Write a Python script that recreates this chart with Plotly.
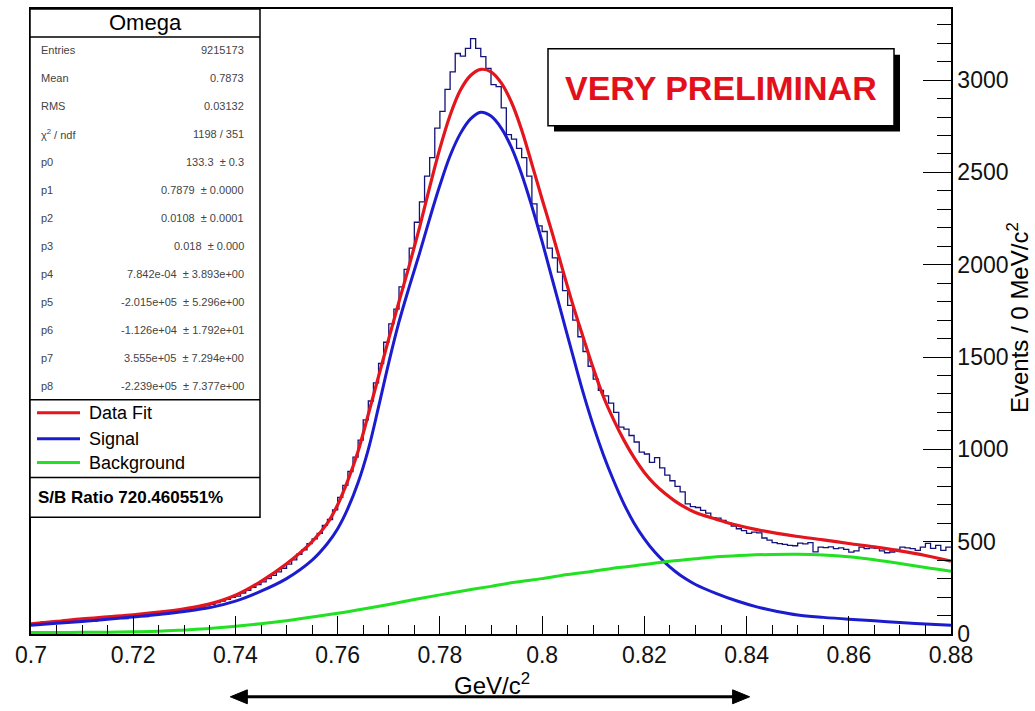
import plotly.graph_objects as go

# ---------------- data ----------------
bin_lo = 0.700
bin_width = 0.001
hist_counts = [
    52, 58, 66, 60, 63, 58, 67, 64, 70, 68,
    72, 75, 70, 78, 82, 79, 85, 88, 84, 92,
    95, 98, 94, 102, 106, 110, 108, 115, 118, 124,
    128, 133, 140, 146, 152, 160, 170, 178, 188, 198,
    205, 222, 236, 252, 268, 282, 300, 318, 336, 356,
    378, 402, 432, 456, 490, 515, 545, 588, 620, 672,
    740, 805, 880, 958, 1050, 1160, 1262, 1360, 1465, 1580,
    1680, 1760, 1880, 1975, 2090, 2230, 2340, 2480, 2580, 2740,
    2830, 2950, 3045, 3144, 3130, 3172, 3225, 3172, 3127, 3063,
    2975, 2965, 2850, 2705, 2680, 2630, 2580, 2480, 2330, 2210,
    2180, 2090, 2037, 1960, 1860, 1780, 1700, 1610, 1530, 1450,
    1380, 1320, 1290, 1250, 1200, 1120, 1110, 1075, 1040, 985,
    975, 930, 955, 900, 860, 830, 800, 770, 705, 690,
    685, 670, 655, 630, 628, 615, 600, 585, 570, 560,
    545, 552, 548, 520, 508, 495, 490, 485, 480, 478,
    492, 488, 495, 445, 470, 468, 472, 462, 466, 458,
    443, 450, 470, 462, 466, 464, 450, 440, 444, 458,
    470, 466, 462, 453, 470, 491, 464, 480, 453, 470,
]

fit_x = [0.700, 0.705, 0.710, 0.715, 0.720, 0.725, 0.730, 0.735, 0.740, 0.745,
         0.750, 0.755, 0.758, 0.760, 0.762, 0.764, 0.766, 0.768, 0.770, 0.772,
         0.774, 0.776, 0.778, 0.780, 0.782, 0.784, 0.786, 0.788, 0.790, 0.792,
         0.794, 0.796, 0.798, 0.800, 0.802, 0.804, 0.806, 0.808, 0.810, 0.812,
         0.814, 0.816, 0.818, 0.820, 0.822, 0.824, 0.826, 0.828, 0.830, 0.834,
         0.838, 0.842, 0.846, 0.850, 0.855, 0.860, 0.865, 0.870, 0.875, 0.880]
data_fit = [55, 68, 82, 93, 104, 118, 136, 163, 210, 285,
            380, 500, 600, 700, 832, 990, 1190, 1395, 1600, 1800,
            1995, 2200, 2420, 2630, 2810, 2945, 3025, 3058, 3045, 2985,
            2880, 2730, 2545, 2355, 2170, 1975, 1785, 1610, 1440, 1285,
            1160, 1050, 955, 875, 812, 762, 720, 686, 658, 622,
            590, 565, 545, 528, 510, 490, 472, 450, 425, 395]
signal = [48, 58, 68, 80, 92, 106, 122, 143, 178, 232,
          300, 400, 490, 570, 680, 820, 1000, 1230, 1470, 1690,
          1880, 2060, 2250, 2430, 2590, 2710, 2790, 2826, 2805, 2740,
          2635, 2490, 2315, 2125, 1920, 1715, 1510, 1310, 1130, 970,
          830, 705, 600, 515, 445, 388, 340, 300, 268, 220,
          180, 147, 122, 103, 90, 80, 72, 62, 54, 47]

bkg_x = [0.700, 0.705, 0.710, 0.715, 0.720, 0.725, 0.730, 0.735, 0.740, 0.745,
         0.750, 0.755, 0.760, 0.765, 0.770, 0.775, 0.780, 0.785, 0.790, 0.795,
         0.800, 0.805, 0.810, 0.815, 0.820, 0.825, 0.830, 0.835, 0.840, 0.845,
         0.850, 0.855, 0.860, 0.865, 0.870, 0.875, 0.880]
background = [8, 8, 9, 10, 12, 15, 22, 30, 42, 56,
              72, 92, 112, 135, 160, 187, 212, 236, 258, 282,
              300, 322, 340, 360, 376, 394, 408, 420, 427, 431,
              432, 428, 418, 402, 382, 360, 340]

x_ticks = [0.70, 0.72, 0.74, 0.76, 0.78, 0.80, 0.82, 0.84, 0.86, 0.88]
x_ticktext = ['0.7', '0.72', '0.74', '0.76', '0.78', '0.8', '0.82', '0.84', '0.86', '0.88']

stat_labels = ['Entries', 'Mean', 'RMS', 'χ<sup>2</sup> / ndf', 'p0', 'p1', 'p2', 'p3',
               'p4', 'p5', 'p6', 'p7', 'p8']
stat_values = ['9215173', '0.7873', '0.03132', '1198 / 351', '133.3  ± 0.3',
               '0.7879  ± 0.0000', '0.0108  ± 0.0001', '0.018  ± 0.000',
               '7.842e-04  ± 3.893e+00', '-2.015e+05  ± 5.296e+00',
               '-1.126e+04  ± 1.792e+01', '3.555e+05  ± 7.294e+00',
               '-2.239e+05  ± 7.377e+00']
legend_names = ['Data Fit', 'Signal', 'Background']

# ---------------- styling ----------------
FONT = 'Liberation Sans, Arial, Helvetica, sans-serif'
C_HIST = '#12127a'
C_RED = '#e3161e'
C_BLUE = '#1c1ccf'
C_GREEN = '#22e022'

W, H = 1035, 711
L, R, T, B = 31, 951, 7, 634


def px(x):
    return (x - L) / (R - L)


def py(y):
    return (B - y) / (B - T)


fig = go.Figure()

edges = [round(bin_lo + bin_width * i, 4) for i in range(len(hist_counts) + 1)]
fig.add_trace(go.Scatter(x=edges, y=hist_counts + [hist_counts[-1]], mode='lines',
                         line=dict(shape='hv', color=C_HIST, width=1.3),
                         showlegend=False, hoverinfo='skip'))
fig.add_trace(go.Scatter(x=fit_x, y=data_fit, mode='lines',
                         line=dict(shape='spline', color=C_RED, width=3.2),
                         showlegend=False))
fig.add_trace(go.Scatter(x=fit_x, y=signal, mode='lines',
                         line=dict(shape='spline', color=C_BLUE, width=3),
                         showlegend=False))
fig.add_trace(go.Scatter(x=bkg_x, y=background, mode='lines',
                         line=dict(shape='spline', color=C_GREEN, width=3),
                         showlegend=False))

shapes = []
annotations = []

# stats box
shapes.append(dict(type='rect', xref='paper', yref='paper', x0=px(30), x1=px(260),
                   y0=py(517), y1=py(7), fillcolor='white', line=dict(color='black', width=1.5)))
for yy in (35, 399, 477):
    shapes.append(dict(type='line', xref='paper', yref='paper', x0=px(30), x1=px(260),
                       y0=py(yy), y1=py(yy), line=dict(color='black', width=1.5)))
annotations.append(dict(text='Omega', xref='paper', yref='paper', x=px(145), y=py(21),
                        xanchor='center', yanchor='middle', showarrow=False,
                        font=dict(family=FONT, size=22, color='black')))
for i, (lab, val) in enumerate(zip(stat_labels, stat_values)):
    yy = 48 + 28.1 * i
    annotations.append(dict(text=lab, xref='paper', yref='paper', x=px(39), y=py(yy),
                            xanchor='left', yanchor='middle', showarrow=False,
                            font=dict(family=FONT, size=11, color='#444')))
    annotations.append(dict(text=val, xref='paper', yref='paper', x=px(246), y=py(yy),
                            xanchor='right', yanchor='middle', showarrow=False,
                            font=dict(family=FONT, size=11, color='#444')))
# legend
for yy, col, name in zip((412, 438, 462), (C_RED, C_BLUE, C_GREEN), legend_names):
    shapes.append(dict(type='line', xref='paper', yref='paper', x0=px(37), x1=px(80),
                       y0=py(yy), y1=py(yy), line=dict(color=col, width=3)))
    annotations.append(dict(text=name, xref='paper', yref='paper', x=px(87), y=py(yy),
                            xanchor='left', yanchor='middle', showarrow=False,
                            font=dict(family=FONT, size=18, color='black')))
annotations.append(dict(text='<b>S/B Ratio 720.460551%</b>', xref='paper', yref='paper',
                        x=px(36), y=py(497), xanchor='left', yanchor='middle', showarrow=False,
                        font=dict(family=FONT, size=17, color='black')))

# VERY PRELIMINAR box
shapes.append(dict(type='rect', xref='paper', yref='paper', x0=px(554), x1=px(900),
                   y0=py(130), y1=py(53), fillcolor='black', line=dict(width=0)))
shapes.append(dict(type='rect', xref='paper', yref='paper', x0=px(548), x1=px(894),
                   y0=py(124), y1=py(47), fillcolor='white', line=dict(color='black', width=1.5)))
annotations.append(dict(text='<b>VERY PRELIMINAR</b>', xref='paper', yref='paper',
                        x=px(721), y=py(86), xanchor='center', yanchor='middle', showarrow=False,
                        font=dict(family=FONT, size=34, color='#e3101c')))

# axis titles
annotations.append(dict(text='GeV/c<sup>2</sup>', xref='paper', yref='paper',
                        x=px(492), y=py(684), xanchor='center', yanchor='middle', showarrow=False,
                        font=dict(family=FONT, size=24, color='black')))
annotations.append(dict(text='Events / 0 MeV/c<sup>2</sup>', xref='paper', yref='paper',
                        x=px(1018), y=py(317), xanchor='center', yanchor='middle', showarrow=False,
                        textangle=-90, font=dict(family=FONT, size=24, color='black')))

# double arrow below the axis
ay = py(697)
dy = 7 / (B - T)
x_left, x_right = 0.7390, 0.8406
head = 17 / ((R - L) / 0.18)
shapes.append(dict(type='line', xref='x', yref='paper', x0=x_left + head * 0.5, x1=x_right - head * 0.5,
                   y0=ay, y1=ay, line=dict(color='black', width=3)))
shapes.append(dict(type='path', xref='x', yref='paper',
                   path=f'M {x_left} {ay} L {x_left + head} {ay + dy} L {x_left + head} {ay - dy} Z',
                   fillcolor='black', line=dict(color='black', width=1)))
shapes.append(dict(type='path', xref='x', yref='paper',
                   path=f'M {x_right} {ay} L {x_right - head} {ay + dy} L {x_right - head} {ay - dy} Z',
                   fillcolor='black', line=dict(color='black', width=1)))

fig.update_layout(
    width=W, height=H,
    margin=dict(l=L, r=W - R, t=T, b=H - B, pad=0),
    paper_bgcolor='white', plot_bgcolor='white',
    font=dict(family=FONT, size=23, color='black'),
    shapes=shapes, annotations=annotations,
    showlegend=False,
    xaxis=dict(range=[0.7, 0.88], tickvals=x_ticks, ticktext=x_ticktext,
               ticks='inside', ticklen=18, tickwidth=1.3, tickcolor='black',
               minor=dict(dtick=0.005, tick0=0.7, ticks='inside', ticklen=9, tickwidth=1.2,
                          tickcolor='black', showgrid=False),
               showline=True, linecolor='black', linewidth=1.5, mirror=True,
               showgrid=False, zeroline=False,
               tickfont=dict(family=FONT, size=23, color='#111')),
    yaxis=dict(range=[0, 3385], side='right', dtick=500, tick0=0, tickformat='d',
               ticks='inside', ticklen=28, tickwidth=1.3, tickcolor='black',
               minor=dict(dtick=100, ticks='inside', ticklen=14, tickwidth=1.2,
                          tickcolor='black', showgrid=False),
               showline=True, linecolor='black', linewidth=1.5, mirror=True,
               showgrid=False, zeroline=False,
               tickfont=dict(family=FONT, size=23, color='#111')),
)

fig.write_html('out.html')
